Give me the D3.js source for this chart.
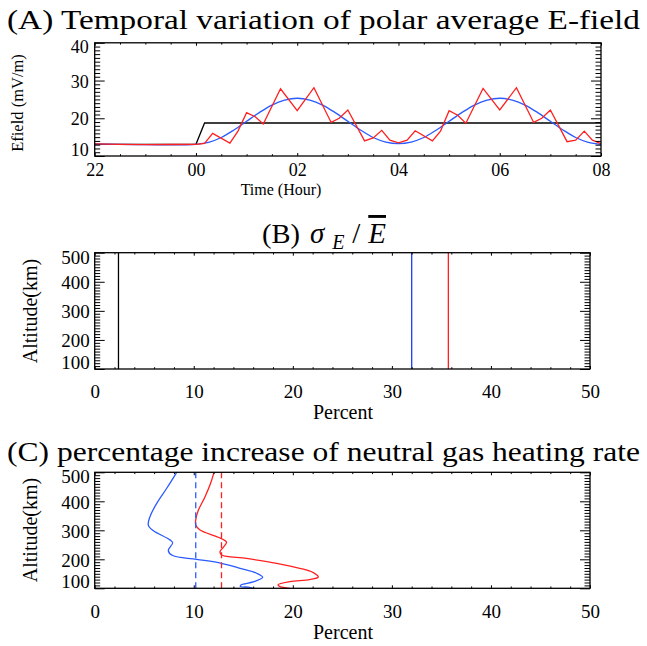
<!DOCTYPE html>
<html><head><meta charset="utf-8">
<script src="https://cdn.jsdelivr.net/npm/d3@7"></script>
<style>body{margin:0;background:#fff}</style>
</head><body>
<svg id="c" width="647" height="646"></svg>
<script>
// ---------- DATA ----------
// Panel A: time in hours relative to 00 (22 -> -2)
const timeTicks = [-2, 0, 2, 4, 6, 8];
const timeTickLabels = ["22", "00", "02", "04", "06", "08"];
const efieldTicks = [10, 20, 30, 40];

const blackTime = [-2, 0, 0.17, 8];
const blackE    = [13.1, 13.1, 18.75, 18.75];

const blueTime = [-2, -1, 0, 0.25, 0.5, 0.75, 1, 1.25, 1.5, 1.75, 2, 2.25, 2.5, 2.75, 3, 3.25, 3.5, 3.75, 4,
                  4.25, 4.5, 4.75, 5, 5.25, 5.5, 5.75, 6, 6.25, 6.5, 6.75, 7, 7.25, 7.5, 7.75, 8];
const blueE    = [13.2, 13.0, 13.1, 13.6, 14.9, 16.9, 19.2, 21.5, 23.5, 24.8, 25.3, 24.8, 23.5, 21.5, 19.2, 16.9, 14.9, 13.7, 13.3,
                  13.7, 14.9, 16.9, 19.2, 21.5, 23.5, 24.8, 25.3, 24.8, 23.5, 21.5, 19.2, 16.9, 14.9, 13.6, 13.1];

const redTime = [-2, -1.5, -1, -0.5, 0, 0.17, 0.33, 0.67, 0.83, 1.0, 1.17, 1.33, 1.67, 2.0, 2.33, 2.67, 2.83, 3.0, 3.33, 3.5, 3.67, 3.83, 4.0,
                 4.17, 4.33, 4.67, 4.83, 5.0, 5.17, 5.33, 5.67, 6.0, 6.33, 6.67, 6.83, 7.0, 7.33, 7.5, 7.67, 7.83, 8.0];
const redE    = [13.2, 13.1, 13.0, 13.05, 13.1, 13.35, 16.0, 13.4, 16.6, 21.5, 20.4, 18.5, 27.8, 22.0, 28.1, 18.9, 20.0, 22.2, 14.0, 14.8, 16.8, 14.2, 13.5,
                 14.2, 16.7, 14.0, 16.6, 22.0, 20.8, 18.7, 27.9, 22.2, 28.1, 18.9, 20.0, 22.2, 13.8, 14.2, 16.6, 14.2, 13.3];

// Panel B: sigma_E / mean E (percent), constant with altitude
const percentTicks = [0, 10, 20, 30, 40, 50];
const altTicks = [100, 200, 300, 400, 500];
const sigmaCases = ["black", "blue", "red"];
const sigmaPercent = [2.4, 32.0, 35.7];

// Panel C: percentage increase of neutral gas heating rate
const altBlue = [500, 445, 393, 347, 318, 299, 267, 257, 230, 213, 200, 186, 169, 152, 138, 122, 112, 106, 104, 100];
const pctBlue = [8.28, 7.27, 6.26, 5.58, 5.41, 5.9, 7.6, 7.87, 7.43, 7.87, 10.3, 12.8, 14.67, 16.35, 16.96, 16.0, 14.8, 14.7, 15.5, 16.0];
const altRed  = [500, 462, 415, 369, 334, 318, 301, 276, 259, 242, 226, 215, 203, 186, 169, 154, 139, 130, 123, 112, 106, 100];
const pctRed  = [12.04, 11.7, 11.13, 10.46, 10.19, 10.2, 10.63, 12.48, 13.3, 13.0, 12.65, 12.82, 15.34, 18.37, 20.7, 22.07, 22.57, 21.7, 19.7, 18.5, 18.7, 19.7];
const meanBlue = 10.2;
const meanRed  = 12.8;

// ---------- STYLE ----------
const RED = "#ff2020", BLUE = "#2a5bff", BLUEB = "#1f3cf5";
const SERIF = "'Liberation Serif', 'Times New Roman', serif";
const svg = d3.select("#c");

function range(a, b, s) { const r = []; for (let v = a; v <= b + 1e-9; v += s) r.push(+v.toFixed(6)); return r; }

function frameAxes(x, y, cfg) {
  const [xl, xr] = x.range();
  const [yb, yt] = y.range();
  const g = svg.append("g");
  const style = sel => {
    sel.select(".domain").remove();
    sel.selectAll("line").attr("stroke", "#000").attr("stroke-width", 1);
    sel.selectAll("text").attr("font-family", SERIF).attr("font-size", cfg.tickFont).attr("fill", "#000");
  };
  const xMinor = cfg.xMinor.filter(v => !cfg.xMajor.includes(v));
  const yMinor = cfg.yMinor.filter(v => !cfg.yMajor.includes(v));
  // bottom
  g.append("g").attr("transform", `translate(0,${yb})`)
    .call(d3.axisBottom(x).tickValues(cfg.xMajor).tickSize(-cfg.xLen).tickPadding(cfg.xPad).tickFormat(cfg.xFmt)).call(style);
  g.append("g").attr("transform", `translate(0,${yb})`)
    .call(d3.axisBottom(x).tickValues(xMinor).tickSize(-cfg.xLen * 0.6).tickFormat("")).call(style);
  // top
  g.append("g").attr("transform", `translate(0,${yt})`)
    .call(d3.axisTop(x).tickValues(cfg.xMajor).tickSize(-cfg.xLen).tickFormat("")).call(style);
  g.append("g").attr("transform", `translate(0,${yt})`)
    .call(d3.axisTop(x).tickValues(xMinor).tickSize(-cfg.xLen * 0.6).tickFormat("")).call(style);
  // left
  const left = g.append("g").attr("transform", `translate(${xl},0)`)
    .call(d3.axisLeft(y).tickValues(cfg.yMajor).tickSize(-cfg.yLen).tickPadding(cfg.yPad)).call(style);
  left.selectAll("text").attr("dy", d => d === cfg.yMajor[0] ? "-0.05em" : (d === cfg.yMajor[cfg.yMajor.length - 1] ? "0.55em" : "0.36em"));
  g.append("g").attr("transform", `translate(${xl},0)`)
    .call(d3.axisLeft(y).tickValues(yMinor).tickSize(-cfg.yLen * 0.55).tickFormat("")).call(style);
  // right
  g.append("g").attr("transform", `translate(${xr},0)`)
    .call(d3.axisRight(y).tickValues(cfg.yMajor).tickSize(-cfg.yLen).tickFormat("")).call(style);
  g.append("g").attr("transform", `translate(${xr},0)`)
    .call(d3.axisRight(y).tickValues(yMinor).tickSize(-cfg.yLen * 0.55).tickFormat("")).call(style);
  // frame
  g.append("rect").attr("x", xl).attr("y", yt).attr("width", xr - xl).attr("height", yb - yt)
    .attr("fill", "none").attr("stroke", "#000").attr("stroke-width", 1.3);
  return g;
}

function title(txt, x, y, len) {
  svg.append("text").attr("x", x).attr("y", y).attr("font-family", SERIF).attr("font-size", 28)
    .attr("textLength", len).attr("lengthAdjust", "spacingAndGlyphs").text(txt);
}

// ---------- PANEL A ----------
const xA = d3.scaleLinear().domain([-2, 8]).range([94.7, 601]);
const yA = d3.scaleLinear().domain([10, 40]).range([156, 42.8]);
title("(A) Temporal variation of polar average E-field", 7, 29, 633);

const lineA = (tx, vy, curve) => d3.line().x((d, i) => xA(tx[i])).y((d, i) => yA(vy[i])).curve(curve)(tx);
svg.append("path").attr("d", lineA(blackTime, blackE, d3.curveLinear)).attr("fill", "none").attr("stroke", "#000").attr("stroke-width", 1.3);
svg.append("path").attr("d", lineA(blueTime, blueE, d3.curveCatmullRom)).attr("fill", "none").attr("stroke", BLUE).attr("stroke-width", 1.3);
svg.append("path").attr("d", lineA(redTime, redE, d3.curveLinear)).attr("fill", "none").attr("stroke", RED).attr("stroke-width", 1.3);

frameAxes(xA, yA, {
  xMajor: timeTicks, xMinor: range(-2, 8, 0.5), xFmt: (d, i) => timeTickLabels[timeTicks.indexOf(d)],
  yMajor: efieldTicks, yMinor: range(10, 40, 1), xLen: 3, yLen: 10, xPad: 7, yPad: 6, tickFont: 18
});
svg.append("text").attr("x", 281).attr("y", 195).attr("text-anchor", "middle").attr("font-family", SERIF).attr("font-size", 16).text("Time (Hour)");
svg.append("text").attr("transform", "translate(23,103) rotate(-90)").attr("text-anchor", "middle").attr("font-family", SERIF).attr("font-size", 16.5).text("Efield (mV/m)");

// ---------- PANEL B ----------
const xB = d3.scaleLinear().domain([0, 50]).range([94.7, 590]);
const yB = d3.scaleLinear().domain([100, 500]).range([369, 252.7]);
svg.append("text").attr("x", 262).attr("y", 243).attr("font-family", SERIF).attr("font-size", 28)
  .attr("textLength", 38).attr("lengthAdjust", "spacingAndGlyphs").text("(B)");
const tB = svg.append("text").attr("x", 310).attr("y", 243).attr("font-family", SERIF).attr("font-size", 29)
  .attr("textLength", 76).attr("lengthAdjust", "spacing");
tB.append("tspan").attr("font-style", "italic").text("σ");
tB.append("tspan").attr("font-style", "italic").attr("font-size", 20).attr("dy", 6).text("E");
tB.append("tspan").attr("dy", -6).text("/");
tB.append("tspan").attr("font-style", "italic").style("text-decoration", "overline").text("E");

const sigColors = { black: "#000", blue: BLUEB, red: RED };
svg.append("g").selectAll("line").data(sigmaCases).join("line")
  .attr("x1", (d, i) => xB(sigmaPercent[i])).attr("x2", (d, i) => xB(sigmaPercent[i]))
  .attr("y1", yB(100)).attr("y2", yB(500)).attr("stroke", d => sigColors[d]).attr("stroke-width", 1.3);

frameAxes(xB, yB, {
  xMajor: percentTicks, xMinor: range(0, 50, 2), xFmt: d3.format("d"),
  yMajor: altTicks, yMinor: range(100, 500, 10), xLen: 3, yLen: 10, xPad: 16, yPad: 5, tickFont: 19
});
svg.append("text").attr("x", 343).attr("y", 419).attr("text-anchor", "middle").attr("font-family", SERIF).attr("font-size", 20).text("Percent");
svg.append("text").attr("transform", "translate(37,311) rotate(-90)").attr("text-anchor", "middle").attr("font-family", SERIF).attr("font-size", 20).text("Altitude(km)");

// ---------- PANEL C ----------
const xC = d3.scaleLinear().domain([0, 50]).range([94.7, 590]);
const yC = d3.scaleLinear().domain([100, 500]).range([588.3, 472.3]);
title("(C) percentage increase of neutral gas heating rate", 7, 461, 633);

const lineC = (pct, alt) => d3.line().x((d, i) => xC(pct[i])).y((d, i) => yC(alt[i])).curve(d3.curveCatmullRom)(alt);
svg.append("path").attr("d", lineC(pctBlue, altBlue)).attr("fill", "none").attr("stroke", BLUE).attr("stroke-width", 1.3);
svg.append("path").attr("d", lineC(pctRed, altRed)).attr("fill", "none").attr("stroke", RED).attr("stroke-width", 1.3);
[[meanBlue, BLUE], [meanRed, RED]].forEach(([m, c]) => {
  svg.append("line").attr("x1", xC(m)).attr("x2", xC(m)).attr("y1", yC(100)).attr("y2", yC(500))
    .attr("stroke", c).attr("stroke-width", 1.3).attr("stroke-dasharray", "6,4");
});

frameAxes(xC, yC, {
  xMajor: percentTicks, xMinor: range(0, 50, 2), xFmt: d3.format("d"),
  yMajor: altTicks, yMinor: range(100, 500, 10), xLen: 3, yLen: 10, xPad: 16, yPad: 5, tickFont: 19
});
svg.append("text").attr("x", 343).attr("y", 639).attr("text-anchor", "middle").attr("font-family", SERIF).attr("font-size", 20).text("Percent");
svg.append("text").attr("transform", "translate(37,530) rotate(-90)").attr("text-anchor", "middle").attr("font-family", SERIF).attr("font-size", 20).text("Altitude(km)");
</script>
</body></html>
